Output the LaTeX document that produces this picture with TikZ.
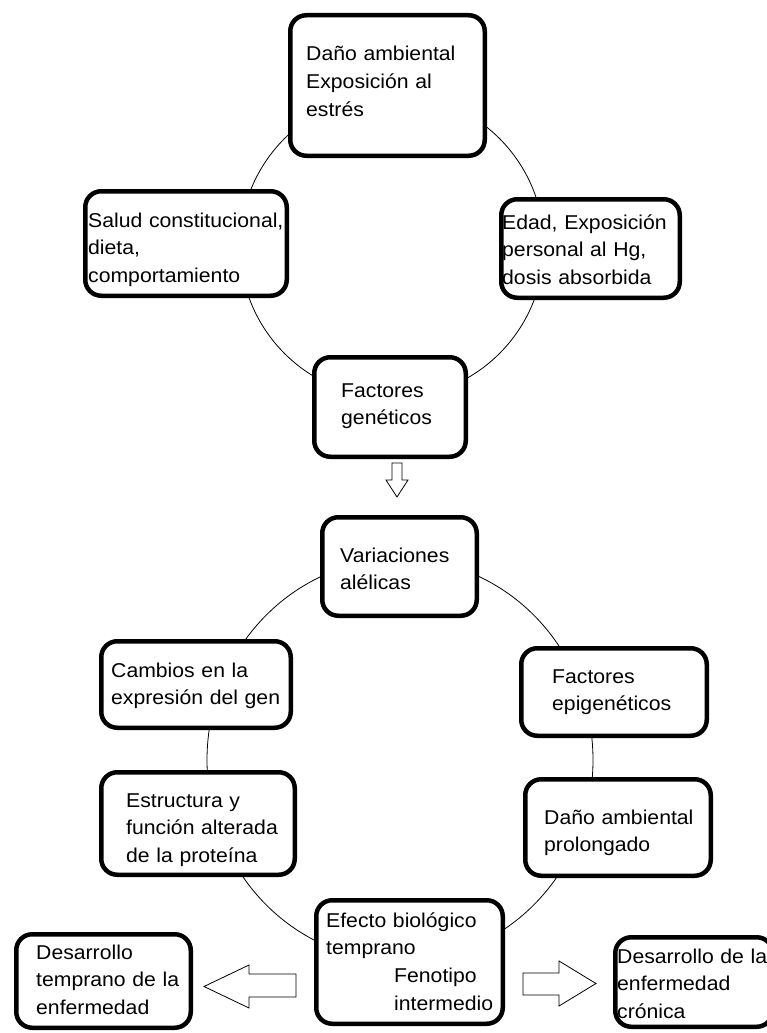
\documentclass[tikz,border=0pt]{standalone}
\usepackage{fontspec}
\setmainfont{Liberation Sans}[FakeStretch=1.06]
\usepackage{tikz}

\begin{document}
\begin{tikzpicture}[x=1pt, y=-1pt,
        caja/.style={draw, line width=4.5pt, rounded corners=16pt, fill=white,
            inner sep=0pt},
        texto/.style={align=left, text width=240pt, inner sep=0pt,
            anchor=base west, font=\fontsize{20}{27.7}\selectfont},
        trazo/.style={line width=0.8pt},
        flecha/.style={draw, line width=0.8pt, fill=white}]

        \pgfmathsetmacro{\anchoX}{767}
        \pgfmathsetmacro{\altoY}{1033}
        \fill[white] (0, 0) rectangle (\anchoX, \altoY);
        \useasboundingbox (0, 0) rectangle (\anchoX, \altoY);

        \draw[trazo] (392, 246) circle (152);
        \draw[trazo] (400, 760) ellipse (193 and 201);

        \node[caja, minimum width=194.5, minimum height=140.5] (danio) at (387.5, 85.5) {};
        \node[caja, minimum width=201.5, minimum height=104.5] (salud) at (186, 243.5) {};
        \node[caja, minimum width=178.5, minimum height=98.5] (edad) at (590.5, 248.5) {};
        \node[caja, minimum width=151.5, minimum height=99.5] (genetico) at (390, 407) {};
        \node[caja, minimum width=154.5, minimum height=98.5] (alelo) at (399.5, 566.5) {};
        \node[caja, minimum width=189.5, minimum height=86.5] (cambio) at (196, 684.5) {};
        \node[caja, minimum width=185.5, minimum height=87.5] (epigen) at (614, 692) {};
        \node[caja, minimum width=193.5, minimum height=102.5] (proteina) at (198, 823.5) {};
        \node[caja, minimum width=185.5, minimum height=96.5] (prolongado) at (618, 827.5) {};
        \node[caja, minimum width=186.5, minimum height=123.5] (efecto) at (409.5, 962) {};
        \node[caja, minimum width=174.5, minimum height=93.5] (temprano) at (103.5, 981) {};
        \node[caja, minimum width=157.5, minimum height=89.5] (cronica) at (694, 982) {};

        \node[texto] (tdanio) at (306, 61) {Daño ambiental\\Exposición al\\estrés};
        \node[texto] (tsalud) at (88, 227) {Salud constitucional,\\dieta,\\comportamiento};
        \node[texto] (tedad) at (502, 229) {Edad, Exposición\\personal al Hg,\\dosis absorbida};
        \node[texto] (tgenetico) at (341, 397) {Factores\\genéticos};
        \node[texto] (talelo) at (340, 562) {Variaciones\\alélicas};
        \node[texto] (tcambio) at (111, 677) {Cambios en la\\expresión del gen};
        \node[texto] (tepigen) at (552, 683) {Factores\\epigenéticos};
        \node[texto] (tproteina) at (126, 807) {Estructura y\\función alterada\\de la proteína};
        \node[texto] (tprolongado) at (544, 824) {Daño ambiental\\prolongado};
        \node[texto] (tefecto) at (326, 927) {Efecto biológico\\temprano\\
            \hspace*{68pt}Fenotipo\\\hspace*{68pt}intermedio};
        \node[texto] (ttemprano) at (36, 959) {Desarrollo\\temprano de la\\enfermedad};
        \node[texto] (tcronica) at (617, 963) {Desarrollo de la\\enfermedad\\crónica};

        \draw[flecha] (genetico.south) ++(2, 4) -- ++(10, 0) -- ++(0, 17) -- ++(6, 0)
            -- ++(-11, 17) -- ++(-11, -17) -- ++(6, 0) -- cycle;
        \draw[flecha] (efecto.west) ++(-18, 12) -- ++(0, 23) -- ++(-47, 0) -- ++(0, 11)
            -- ++(-45, -21.5) -- ++(45, -21.5) -- ++(0, 9) -- cycle;
        \draw[flecha] (efecto.east) ++(18, 11) -- ++(36, 0) -- ++(0, -12)
            -- ++(37, 22.5) -- ++(-37, 22.5) -- ++(0, -11) -- ++(-36, 0) -- cycle;

    \end{tikzpicture}
\end{document}
